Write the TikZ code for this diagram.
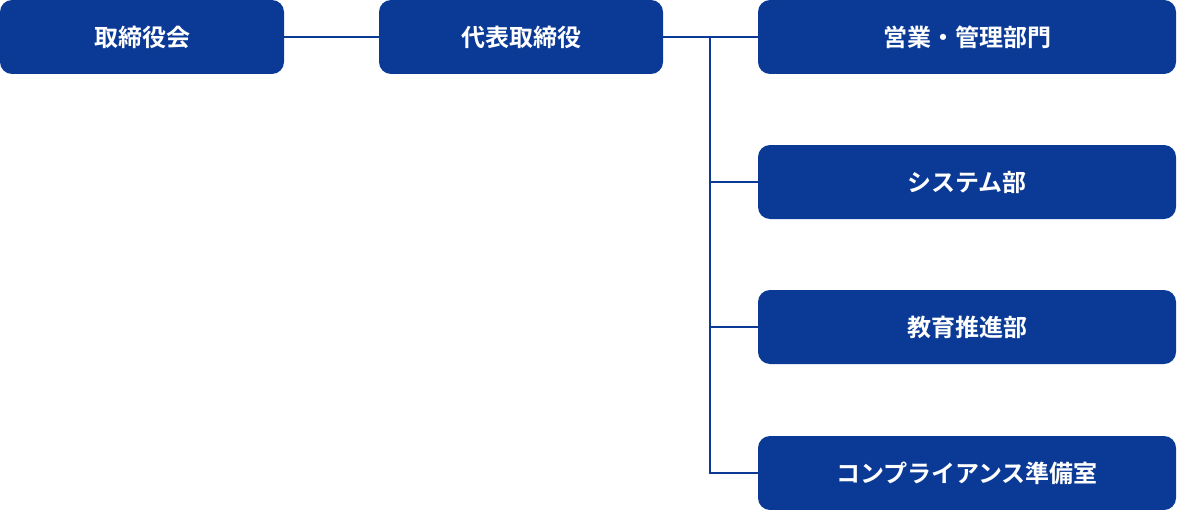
\documentclass[tikz,border=0pt]{standalone}
\usepackage{fontspec}
\newfontfamily\jpfont{Noto Sans CJK JP}[BoldFont={* Bold}]
\usetikzlibrary{positioning}
\definecolor{orgblue}{HTML}{0B3A96}
\tikzset{
    unit/.style = {fill=orgblue, rounded corners=9pt, text=white, font=\jpfont\bfseries\fontsize{18}{20}\selectfont, minimum height=55.5pt, inner sep=0pt},
    small/.style = {unit, minimum width=213pt},
    wide/.style = {unit, minimum width=313.5pt},
    link/.style = {draw=orgblue, line width=2.2pt}
}
\begin{document}
\begin{tikzpicture}[x=0.75pt, y=-0.75pt]
    \useasboundingbox (0,0) rectangle (1177,510);
    \node [small] (board) at (142,37) {取締役会};
    \node [small] (ceo) at (521,37) {代表取締役};
    \node [wide] (sales) at (967,37) {営業・管理部門};
    \node [wide] (system) at (967,182) {システム部};
    \node [wide] (edu) at (967,327) {教育推進部};
    \node [wide] (comp) at (967,473) {コンプライアンス準備室};
    \coordinate (trunk) at (710,37);
    \draw [link] (board) -- (ceo);
    \draw [link] (ceo) -- (sales);
    \draw [link] (trunk) |- (comp);
    \draw [link] (trunk |- system) -- (system);
    \draw [link] (trunk |- edu) -- (edu);
\end{tikzpicture}
\end{document}
